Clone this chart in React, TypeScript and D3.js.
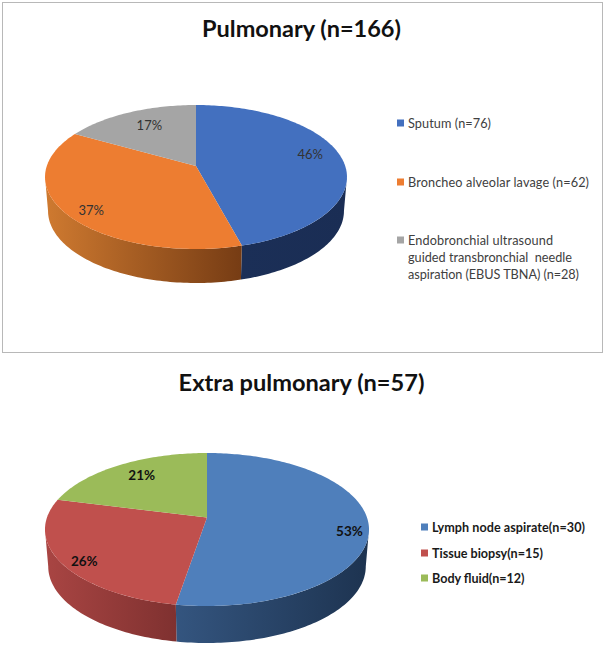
import React from 'react';
import * as d3 from 'd3';

const pulmonaryLabels = ['Sputum (n=76)', 'Broncheo alveolar lavage (n=62)', 'Endobronchial ultrasound|guided transbronchial  needle|aspiration (EBUS TBNA) (n=28)'];
const pulmonaryValues = [76, 62, 28];
const pulmonaryColors = ['#4370bf', '#ed7d31', '#a5a5a5'];
const pulmonarySides = [['#1b2f57', '#1a2d54'], ['#cf7a30', '#763c14'], ['#a5a5a5', '#a5a5a5']];

const extraLabels = ['Lymph node aspirate(n=30)', 'Tissue biopsy(n=15)', 'Body fluid(n=12)'];
const extraValues = [30, 15, 12];
const extraColors = ['#4f7fbb', '#c0504d', '#9bbb59'];
const extraSides = [['#34557f', '#1d3350'], ['#a94543', '#7f3130'], ['#9bbb59', '#9bbb59']];

const FONT = 'Lato, sans-serif';
const pctFormat = d3.format('.0%');

// disc is drawn with a perspective: the far half looks smaller than the near half
const makeProject = (cx, cy, a, b, k, depth) => (angle, r, level) => {
  const u = Math.sin(angle) * r;
  const v = Math.cos(angle) * r;
  const w = 1 + k * v;
  const scale = level ? 0.98 : 1;
  return [cx + ((a * u) / w) * scale, cy - (b * v) / w + (level ? depth : 0)];
};

const PerspectivePie = ({ id, values, colors, sides, geo, labelNudge, labelSize, bold }) => {
  const project = makeProject(geo.cx, geo.cy, geo.a, geo.b, geo.k, geo.depth);
  const arcs = d3.pie().sort(null)(values);
  const total = d3.sum(values);
  const line = d3.line();
  const frontStart = Math.acos(-geo.k);
  const frontEnd = Math.PI * 2 - frontStart;

  const edge = (from, to, level) => {
    const n = Math.max(2, Math.ceil(Math.abs(to - from) / 0.02));
    return d3.range(n + 1).map((i) => project(from + ((to - from) * i) / n, 1, level));
  };

  const sidePaths = arcs.map((d, i) => {
    const from = Math.max(d.startAngle, frontStart);
    const to = Math.min(d.endAngle, frontEnd);
    if (to <= from) return null;
    return { i, d: line([...edge(from, to, 0), ...edge(to, from, 1)]) + 'Z' };
  });

  return (
    <g>
      <defs>
        {sidePaths.map((s) => s && (
          <linearGradient key={s.i} id={`${id}-side-${s.i}`}>
            <stop offset="0" stopColor={sides[s.i][0]} />
            <stop offset="1" stopColor={sides[s.i][1]} />
          </linearGradient>
        ))}
      </defs>
      {sidePaths.map((s) => s && (
        <path key={s.i} d={s.d} fill={`url(#${id}-side-${s.i})`} />
      ))}
      {arcs.map((d, i) => (
        <path
          key={i}
          d={line([[geo.cx, geo.cy], ...edge(d.startAngle, d.endAngle, 0)]) + 'Z'}
          fill={colors[i]}
        />
      ))}
      {arcs.map((d, i) => {
        const [x, y] = project((d.startAngle + d.endAngle) / 2, geo.labelR, 0);
        return (
          <text
            key={i}
            x={x + labelNudge[i][0]}
            y={y + labelNudge[i][1]}
            textAnchor="middle"
            dominantBaseline="central"
            fontFamily={FONT}
            fontSize={labelSize}
            fontWeight={bold ? 700 : 400}
            fill={bold ? '#111' : '#333'}
          >
            {pctFormat(values[i] / total)}
          </text>
        );
      })}
    </g>
  );
};

const Legend = ({ labels, colors, x, rows, size, fontSize, lineGap, bold, fitWidths }) => (
  <g fontFamily={FONT} fontSize={fontSize} fontWeight={bold ? 700 : 400} fill={bold ? '#1a1a1a' : '#404040'}>
    {labels.map((label, i) => (
      <g key={i}>
        <rect x={x} y={rows[i] - size / 2} width={size} height={size} fill={colors[i]} />
        {label.split('|').map((part, j) => (
          <text
            key={j}
            x={x + size + 4}
            y={rows[i] + 4.5 + j * lineGap}
            xmlSpace="preserve"
            textLength={fitWidths[i][j]}
          >
            {part}
          </text>
        ))}
      </g>
    ))}
  </g>
);

export default function App() {
  return (
    <svg width={605} height={656} style={{ position: 'absolute', left: 0, top: 0, background: '#fff' }}>
      <rect x={2.5} y={2.5} width={600} height={350} fill="#fff" stroke="#b8b8b8" strokeWidth={1} />
      <text x={301.5} y={37} textAnchor="middle" fontFamily={FONT} fontWeight={700} fontSize={23.5} fill="#111">Pulmonary (n=166)</text>
      <PerspectivePie
        id="pulm"
        values={pulmonaryValues}
        colors={pulmonaryColors}
        sides={pulmonarySides}
        geo={{ cx: 196, cy: 166, a: 149.2, b: 70.3, k: 0.153, depth: 34, labelR: 0.785 }}
        labelNudge={[[0, -5], [-5, 7], [7, 2]]}
        labelSize={13}
        bold={false}
      />
      <Legend
        labels={pulmonaryLabels}
        colors={pulmonaryColors}
        x={397}
        rows={[123, 182, 240]}
        size={7}
        fontSize={12.7}
        lineGap={17}
        bold={false}
        fitWidths={[[83], [181], [145, 164, 171]]}
      />

      <text x={301.5} y={391} textAnchor="middle" fontFamily={FONT} fontWeight={700} fontSize={23.6} fill="#111">Extra pulmonary (n=57)</text>
      <PerspectivePie
        id="extra"
        values={extraValues}
        colors={extraColors}
        sides={extraSides}
        geo={{ cx: 207, cy: 517.5, a: 160, b: 74.6, k: 0.157, depth: 37, labelR: 0.785 }}
        labelNudge={[[16, 9], [-10, 9], [5, 0]]}
        labelSize={13.5}
        bold={true}
      />
      <Legend
        labels={extraLabels}
        colors={extraColors}
        x={421}
        rows={[527, 553, 578]}
        size={7}
        fontSize={12.6}
        lineGap={0}
        bold={true}
        fitWidths={[[153], [111], [92.5]]}
      />
    </svg>
  );
}
